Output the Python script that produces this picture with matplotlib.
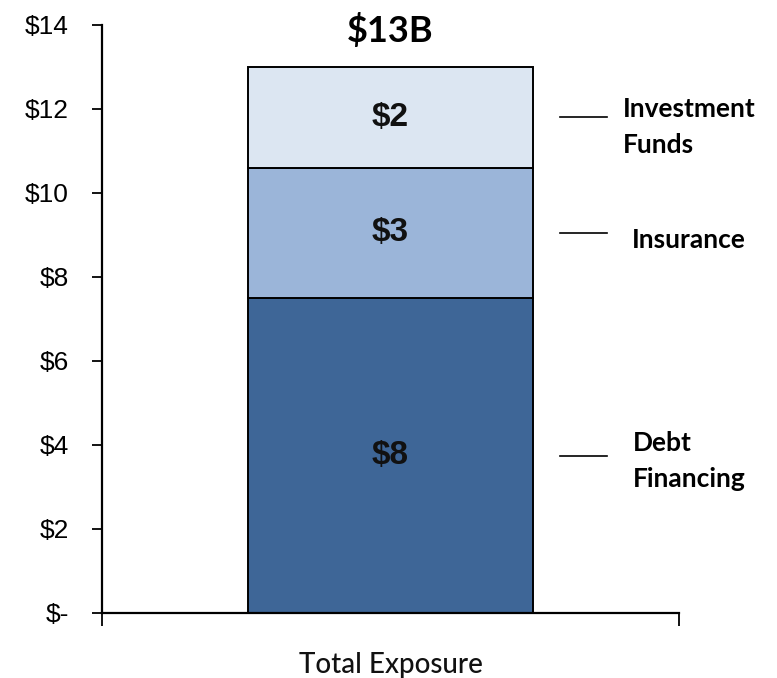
import matplotlib
matplotlib.use("Agg")
import matplotlib.pyplot as plt
from matplotlib.ticker import FixedLocator

# ---- data ----
category = ["Total Exposure"]
segments = ["Debt\nFinancing", "Insurance", "Investment\nFunds"]
values = [7.5, 3.1, 2.4]
value_labels = ["$8", "$3", "$2"]
total_label = "$13B"
colors = ["#3E6697", "#9BB5D9", "#DCE6F2"]
yticks = [0, 2, 4, 6, 8, 10, 12, 14]
ytick_labels = ["$-", "$2", "$4", "$6", "$8", "$10", "$12", "$14"]

fig = plt.figure(figsize=(7.77, 6.78), dpi=100)
ax = fig.add_axes([102 / 777, 65 / 678, 577 / 777, 588 / 678])

x = [0]
bottom = 0.0
mids = []
for v, c, lab in zip(values, colors, value_labels):
    ax.bar(x, [v], bottom=[bottom], width=0.99, color=c, edgecolor="black",
           linewidth=1.4, zorder=2)
    mid = bottom + v / 2
    mids.append(mid)
    ax.text(x[0], mid, lab, ha="center", va="center", fontsize=24,
            fontweight="bold", family="Liberation Sans", color="#111111", zorder=3)
    bottom += v

total = sum(values)
ax.annotate(total_label, xy=(x[0], total), xytext=(0, 26), textcoords="offset points",
            ha="center", va="center", fontsize=26, fontweight="bold",
            family="Lato", color="black")

# side labels with short lines
line_x = (0.794, 0.875)
text_x = [0.920, 0.919, 0.903]
text_dy = [-4, -5, -7]
for mid, seg, tx, dy in zip(mids, segments, text_x, text_dy):
    ax.plot(line_x, [mid, mid], color="black", linewidth=1.2,
            transform=ax.get_yaxis_transform(), clip_on=False)
    ax.annotate(seg, xy=(tx, mid), xycoords=ax.get_yaxis_transform(),
                xytext=(0, dy), textcoords="offset points",
                ha="left", va="center", fontsize=19, fontweight="bold",
                family="Lato", linespacing=1.58, color="black")

ax.set_xlim(-1, 1)
ax.set_ylim(0, 14)
ax.set_yticks(yticks)
ax.set_yticklabels(ytick_labels, family="Liberation Sans", fontsize=19)
ax.tick_params(axis="y", direction="out", length=7, width=1.3, pad=17, colors="black")

ax.set_xticks([0])
ax.set_xticklabels(category, family="Lato", fontsize=20, color="#111111",
                   fontweight="medium")
ax.tick_params(axis="x", length=0, pad=28)
ax.xaxis.set_minor_locator(FixedLocator([-1, 1]))
ax.tick_params(axis="x", which="minor", direction="out", length=9, width=1.3)

for s in ["top", "right"]:
    ax.spines[s].set_visible(False)
for s in ["left", "bottom"]:
    ax.spines[s].set_linewidth(1.6)

fig.savefig("out.png", dpi=100)
